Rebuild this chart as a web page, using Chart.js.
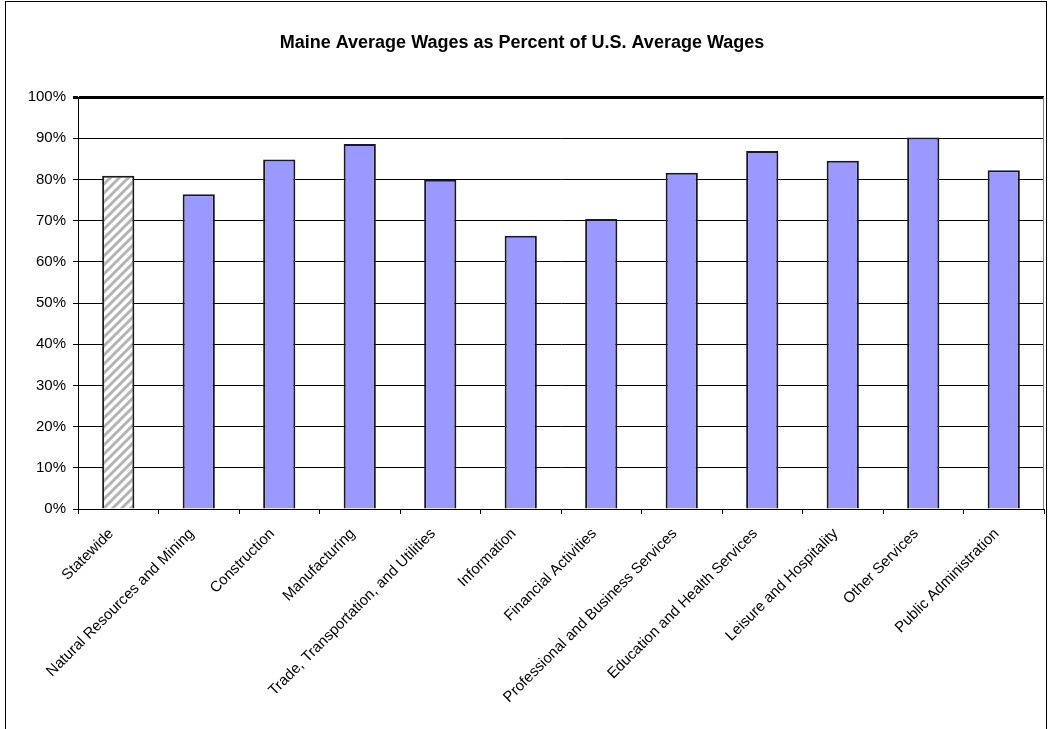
<!DOCTYPE html>
<html>
<head>
<meta charset="utf-8">
<script src="https://cdn.jsdelivr.net/npm/chart.js@4.4.0/dist/chart.umd.min.js"></script>
<style>
  html, body { margin: 0; padding: 0; background: #fff; }
  #wrap { width: 1050px; height: 729px; }
</style>
</head>
<body>
<div id="wrap"><canvas id="myChart" width="1050" height="729"></canvas></div>
<script>
// dados do grafico
var categorias = [
    "Statewide",
    "Natural Resources and Mining",
    "Construction",
    "Manufacturing",
    "Trade, Transportation, and Utilities",
    "Information",
    "Financial Activities",
    "Professional and Business Services",
    "Education and Health Services",
    "Leisure and Hospitality",
    "Other Services",
    "Public Administration"
];
var percentuais = [80.9, 76.4, 84.8, 88.6, 79.9, 66.3, 70.4, 81.6, 86.9, 84.5, 90.2, 82.2];
var ticksY = [0, 10, 20, 30, 40, 50, 60, 70, 80, 90, 100];

// hachura para o Statewide
function criarHachura() {
    var c = document.createElement("canvas");
    c.width = 9;
    c.height = 9;
    var g = c.getContext("2d");
    g.fillStyle = "#ffffff";
    g.fillRect(0, 0, 9, 9);
    g.strokeStyle = "#b4b4b4";
    g.lineWidth = 3;
    g.beginPath();
    g.moveTo(-2, 11); g.lineTo(11, -2);
    g.moveTo(-11, 11); g.lineTo(2, -2);
    g.moveTo(7, 11); g.lineTo(20, -2);
    g.stroke();
    return g.createPattern(c, "repeat");
}

var hachura = criarHachura();
var cores = percentuais.map(function (v, i) { return i == 0 ? hachura : "#9999ff"; });

// moldura externa e borda direita da area
var moldura = {
    id: "moldura",
    afterDraw: function (chart) {
        var ctx = chart.ctx;
        var a = chart.chartArea;
        ctx.save();
        ctx.strokeStyle = "#000";
        ctx.lineWidth = 1;
        ctx.strokeRect(5.5, 1.5, 1041, 760);
        ctx.strokeStyle = "#808080";
        ctx.beginPath();
        ctx.moveTo(Math.round(a.right) - 0.5, a.top);
        ctx.lineTo(Math.round(a.right) - 0.5, a.bottom);
        ctx.stroke();
        ctx.restore();
    }
};

var ctx = document.getElementById("myChart");
var grafico = new Chart(ctx, {
    type: "bar",
    data: {
        labels: categorias,
        datasets: [{
            data: percentuais,
            backgroundColor: cores,
            borderColor: "#1a1a1a",
            borderWidth: 2,
            barPercentage: 0.4,
            categoryPercentage: 1.0
        }]
    },
    plugins: [moldura],
    options: {
        responsive: false,
        animation: false,
        layout: { padding: { left: 0, right: 6, top: 0, bottom: 0 } },
        plugins: {
            legend: { display: false },
            tooltip: { enabled: false },
            title: {
                display: true,
                text: "Maine Average Wages as Percent of U.S. Average Wages",
                color: "#000",
                font: { family: "Liberation Sans, Arial, sans-serif", size: 18, weight: "bold" },
                padding: { top: 32, bottom: 43.4 }
            }
        },
        scales: {
            x: {
                grid: {
                    display: true,
                    drawOnChartArea: false,
                    drawTicks: true,
                    tickLength: 5,
                    offset: true,
                    color: "#000"
                },
                border: { display: true, color: "#000", width: 1 },
                ticks: {
                    color: "#000",
                    font: { family: "Liberation Sans, Arial, sans-serif", size: 15 },
                    minRotation: 45,
                    maxRotation: 45,
                    autoSkip: false,
                    padding: 11,
                    labelOffset: -7
                },
                afterFit: function (scale) { scale.height = 220; }
            },
            y: {
                min: 0,
                max: 100,
                afterBuildTicks: function (scale) {
                    scale.ticks = ticksY.map(function (v) { return { value: v }; });
                },
                grid: {
                    color: "#000",
                    lineWidth: function (c) { return c.tick && c.tick.value == 100 ? 3 : 1; },
                    tickLength: 5,
                    drawTicks: true
                },
                border: { display: true, color: "#000", width: 1 },
                ticks: {
                    color: "#000",
                    font: { family: "Liberation Sans, Arial, sans-serif", size: 15 },
                    padding: 7,
                    callback: function (v) { return v + "%"; }
                },
                afterFit: function (scale) { scale.width = 78; }
            }
        }
    }
});
</script>
</body>
</html>
